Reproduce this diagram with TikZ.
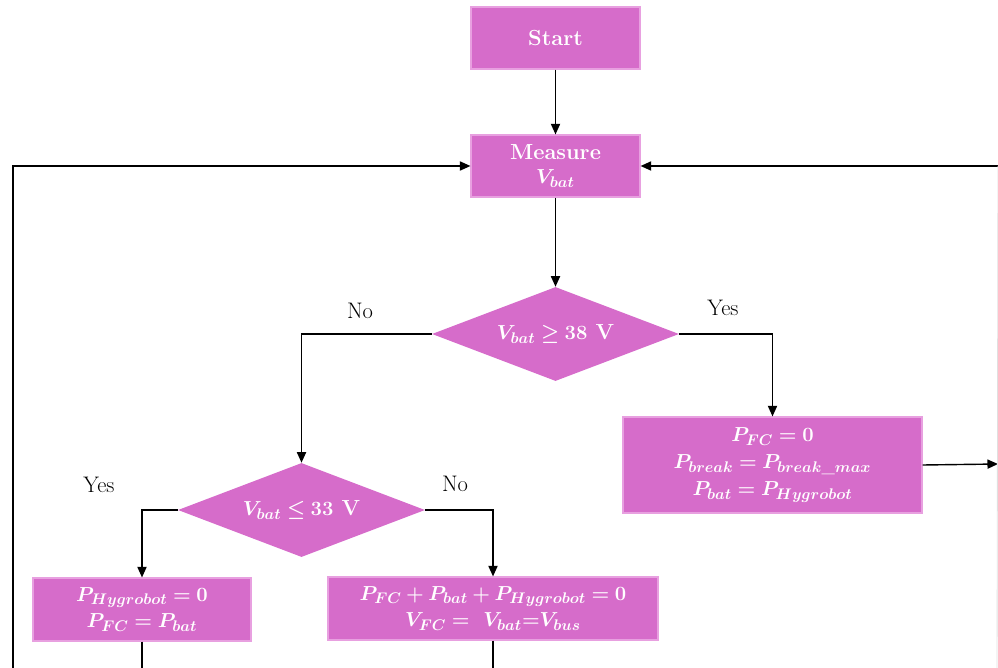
\documentclass[tikz,border=0pt]{standalone}
\usepackage{amsmath}
\usepackage{bm}
\usetikzlibrary{shapes.geometric,arrows.meta}
\definecolor{boxfill}{RGB}{214,108,202}
\definecolor{boxedge}{RGB}{232,160,224}
\tikzset{
  procbox/.style={draw=boxedge, line width=0.8pt, fill=boxfill, text=white, align=center,
    inner sep=1pt, font=\fontsize{15.5}{19}\selectfont\bfseries},
  decision/.style={diamond, shape aspect=2.63, fill=boxfill, text=white, inner sep=0pt,
    minimum width=6.175cm, minimum height=2.35cm, font=\fontsize{15.5}{19}\selectfont\bfseries},
  arr/.style={line width=1pt, -{Triangle[length=7.5pt,width=6.5pt]}},
  ln/.style={line width=1pt},
  lbl/.style={font=\fontsize{16}{19}\selectfont}
}
\begin{document}
\begin{tikzpicture}[x=0.025cm,y=-0.025cm]
\useasboundingbox (0,0) rectangle (998,668);
% nodes
\node[procbox, minimum width=4.225cm, minimum height=1.55cm] (start) at (555.5,38) {Start};
\node[procbox, minimum width=4.225cm, minimum height=1.55cm] (meas) at (555.5,166) {Measure\\[-2pt]$\bm{V_{bat}}$};
\node[decision] (d1) at (555.5,334) {$\bm{V_{bat} \geq 38}$ V};
\node[decision] (d2) at (301.5,510) {$\bm{V_{bat} \leq 33}$ V};
\node[procbox, minimum width=7.475cm, minimum height=2.4cm] (rb) at (772.5,465) {$\bm{P_{FC}=0}$\\$\bm{P_{break}=P_{break\_max}}$\\$\bm{P_{bat}=P_{Hygrobot}}$};
\node[procbox, minimum width=5.45cm, minimum height=1.575cm] (lb) at (142,609.5) {$\bm{P_{Hygrobot}=0}$\\$\bm{P_{FC}=P_{bat}}$};
\node[procbox, minimum width=8.25cm, minimum height=1.575cm] (mb) at (493,608.5) {$\bm{P_{FC}+P_{bat}+P_{Hygrobot}=0}$\\$\bm{V_{FC}=\ V_{bat}{=}V_{bus}}$};
% labels
\node[lbl] (no1) at (360,311) {No};
\node[lbl] (yes1) at (723,308) {Yes};
\node[lbl] (yes2) at (99,485) {Yes};
\node[lbl] (no2) at (455,484) {No};
% free ends
\coordinate (rout) at (998,464);
\coordinate (lbot) at (142,668);
\coordinate (mbot) at (493,668);
\coordinate (lloop) at (13,668);
\coordinate (rloop) at (998,166);
\coordinate (rloopb) at (997,668);
% connectors
\draw[arr] (start) -- (meas);
\draw[arr] (meas) -- (d1);
\draw[arr] (d1.west) -| (d2.north);
\draw[arr] (d1.east) -| (rb.north);
\draw[arr] (rb.east) -- (rout);
\draw[arr] (d2.west) -| (lb.north);
\draw[arr] (d2.east) -| (mb.north);
\draw[ln] (lb.south) -- (lbot);
\draw[ln] (mb.south) -- (mbot);
\draw[arr] (lloop) |- (meas.west);
\draw[arr] (rloop) -- (meas.east);
\draw[line width=0.6pt, black!12] (rloop) -- (rloopb);
\end{tikzpicture}
\end{document}
